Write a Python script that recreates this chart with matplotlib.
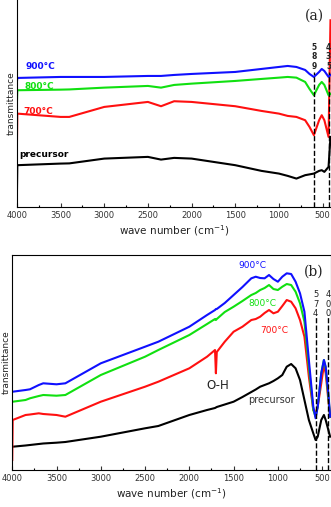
import matplotlib.pyplot as plt
from matplotlib.ticker import MultipleLocator

# ---- panel (a) data: wave number vs transmittance (arb. units) ----
wn_a = [4000, 3995, 3500, 3400, 3000, 2500, 2350, 2200, 2000, 1500, 1200, 1000, 900,
        800, 700, 650, 600, 540, 510, 480, 432, 410]
t900_a = [125, 129, 130, 130, 130, 131, 131, 132, 133, 135, 138, 140, 141,
          140, 137, 133, 130, 135, 138, 136, 130, 132]
t800_a = [103, 116.7, 117.3, 117.5, 119.3, 121, 119.3, 122, 123.3, 126, 128, 129.3, 130,
          129.3, 125, 118, 111.7, 122, 125, 122, 111.7, 113]
t700_a = [58, 93.3, 90, 90, 100, 105, 100.7, 105.7, 105, 100.7, 96, 93.3, 91,
          90, 86.7, 80, 71.7, 86.7, 91.7, 86.7, 70, 186.7]
tpre_a = [10, 41.7, 43.3, 43.5, 48.3, 50, 47.3, 49, 48.3, 41.7, 36, 33.3, 31,
          28.3, 31.7, 32.5, 33.3, 36, 36.7, 35, 40, 70]

# ---- panel (b) data ----
wn_b = [4000, 3995, 3850, 3800, 3700, 3650, 3500, 3400, 3000, 2500, 2350, 2000, 1800,
        1710, 1700, 1690, 1600, 1500, 1400, 1300, 1250, 1200, 1150, 1100, 1050,
        1000, 950, 900, 850, 800, 750, 700, 650, 600, 574, 550, 510, 480, 460,
        430, 410]
t900_b = [78.3, 78.3, 80, 80.7, 85, 86.7, 85.7, 86.7, 106.7, 123.3, 128.3, 143.3, 155,
          160, 161, 161, 167, 175, 183, 191.7, 193.3, 192, 191.7, 195, 191,
          188.3, 193.3, 196.7, 196, 188.3, 176.7, 158.3, 110, 63.3, 51.7, 63.3, 96.7, 110, 103.3,
          76.7, 53.3]
t800_b = [68.3, 68.3, 70, 71.7, 74, 75, 74.3, 75, 95, 113.3, 120, 135, 146,
          151, 150, 151, 158, 163.3, 169, 175, 177, 180, 182, 185, 181,
          180, 183.3, 186, 185, 178.3, 166.7, 148.3, 103.3, 60, 53.3, 63.3, 96.7, 110, 101.7,
          73.3, 53.3]
t700_b = [10, 50, 55, 55.5, 56.7, 56, 55, 53.3, 68.3, 83.3, 88.3, 101.7, 113.3,
          120, 96.7, 118, 128.3, 138.3, 143.3, 150, 151, 153.3, 157, 160, 156.7,
          158.3, 164, 170, 168.3, 161.7, 150, 133.3, 93.3, 60, 56.7, 63.3, 86.7, 105, 96.7,
          70, 53.3]
tpre_b = [23.3, 23.3, 24.5, 25, 26, 26.5, 27.3, 28, 33.3, 41.7, 44, 55, 60,
          62, 62.5, 63, 65.5, 68.3, 73, 78, 80.5, 83.3, 85, 86.7, 89,
          91.7, 95, 103.3, 106, 101.7, 90, 70, 50, 36.7, 30, 33.3, 50, 55, 50,
          40, 33.3]

blue, green, red, black = '#1010ff', '#10e010', '#ff1010', '#000000'

fig = plt.figure(figsize=(3.31, 5.07), dpi=100)
ax1 = fig.add_axes([0.051, 0.592, 0.949, 0.408])
ax2 = fig.add_axes([0.037, 0.073, 0.963, 0.424])

for ax in (ax1, ax2):
    ax.xaxis.set_major_locator(MultipleLocator(500))
    ax.xaxis.set_minor_locator(MultipleLocator(250))
    ax.tick_params(axis='x', which='major', direction='in', length=3, width=0.8,
                   labelsize=6, pad=3, colors='#333333')
    ax.tick_params(axis='x', which='minor', direction='in', length=1.5, width=0.8)
    ax.set_yticks([])
    ax.set_xlabel('wave number (cm$^{-1}$)', fontsize=7.5, labelpad=2, color='#222222')
    ax.set_ylabel('transmittance', fontsize=6.5, labelpad=1, color='#222222')

# panel (a)
lw = 1.5
ax1.plot(wn_a, tpre_a, color=black, lw=lw)
ax1.plot(wn_a, t700_a, color=red, lw=lw)
ax1.plot(wn_a, t800_a, color=green, lw=lw)
ax1.plot(wn_a, t900_a, color=blue, lw=lw)
ax1.set_xlim(4000, 404)
ax1.set_ylim(0, 207)
ax1.spines['top'].set_visible(False)
ax1.spines['right'].set_visible(False)
ax1.axvline(600, ymin=0, ymax=135 / 207, color='black', ls='--', lw=1)
ax1.axvline(432, ymin=0, ymax=135 / 207, color='black', ls='--', lw=1)
ax1.text(600, 150, '5\n8\n9', ha='center', va='center', fontsize=5.5, fontweight='bold',
         color='#222222', linespacing=1.1)
ax1.text(432, 150, '4\n3\n5', ha='center', va='center', fontsize=5.5, fontweight='bold',
         color='#222222', linespacing=1.1)
ax1.text(595, 191.7, '(a)', ha='center', va='center', fontsize=10, family='serif', color='#222222')
ax1.text(3904, 140.7, '900°C', color=blue, fontsize=6.5, fontweight='bold', va='center')
ax1.text(3916, 120.7, '800°C', color=green, fontsize=6.5, fontweight='bold', va='center')
ax1.text(3931, 95.7, '700°C', color=red, fontsize=6.5, fontweight='bold', va='center')
ax1.text(3969, 52.3, 'precursor', color=black, fontsize=6.5, fontweight='bold', va='center')

# panel (b)
ax2.plot(wn_b, tpre_b, color=black, lw=lw)
ax2.plot(wn_b, t700_b, color=red, lw=lw)
ax2.plot(wn_b, t800_b, color=green, lw=lw)
ax2.plot(wn_b, t900_b, color=blue, lw=lw)
ax2.set_xlim(4000, 400)
ax2.set_ylim(0, 215)
ax2.axvline(574, ymin=0, ymax=155 / 215, color='black', ls='--', lw=1)
ax2.axvline(432, ymin=0, ymax=155 / 215, color='black', ls='--', lw=1)
ax2.text(574, 166, '5\n7\n4', ha='center', va='center', fontsize=6, color='#222222',
         linespacing=1.1)
ax2.text(432, 166, '4\n0\n0', ha='center', va='center', fontsize=6, color='#222222',
         linespacing=1.1)
ax2.text(594, 198, '(b)', ha='center', va='center', fontsize=10, family='serif', color='#222222')
ax2.text(1292, 205, '900°C', color=blue, fontsize=6.5, ha='center', va='center')
ax2.text(1178, 166.7, '800°C', color=green, fontsize=6.5, ha='center', va='center')
ax2.text(1046, 140, '700°C', color=red, fontsize=6.5, ha='center', va='center')
ax2.text(1680, 85, 'O-H', color='#222222', fontsize=8.5, ha='center', va='center')
ax2.text(1077, 70, 'precursor', color='#333333', fontsize=7, ha='center', va='center')

fig.savefig('out.png', dpi=100)
